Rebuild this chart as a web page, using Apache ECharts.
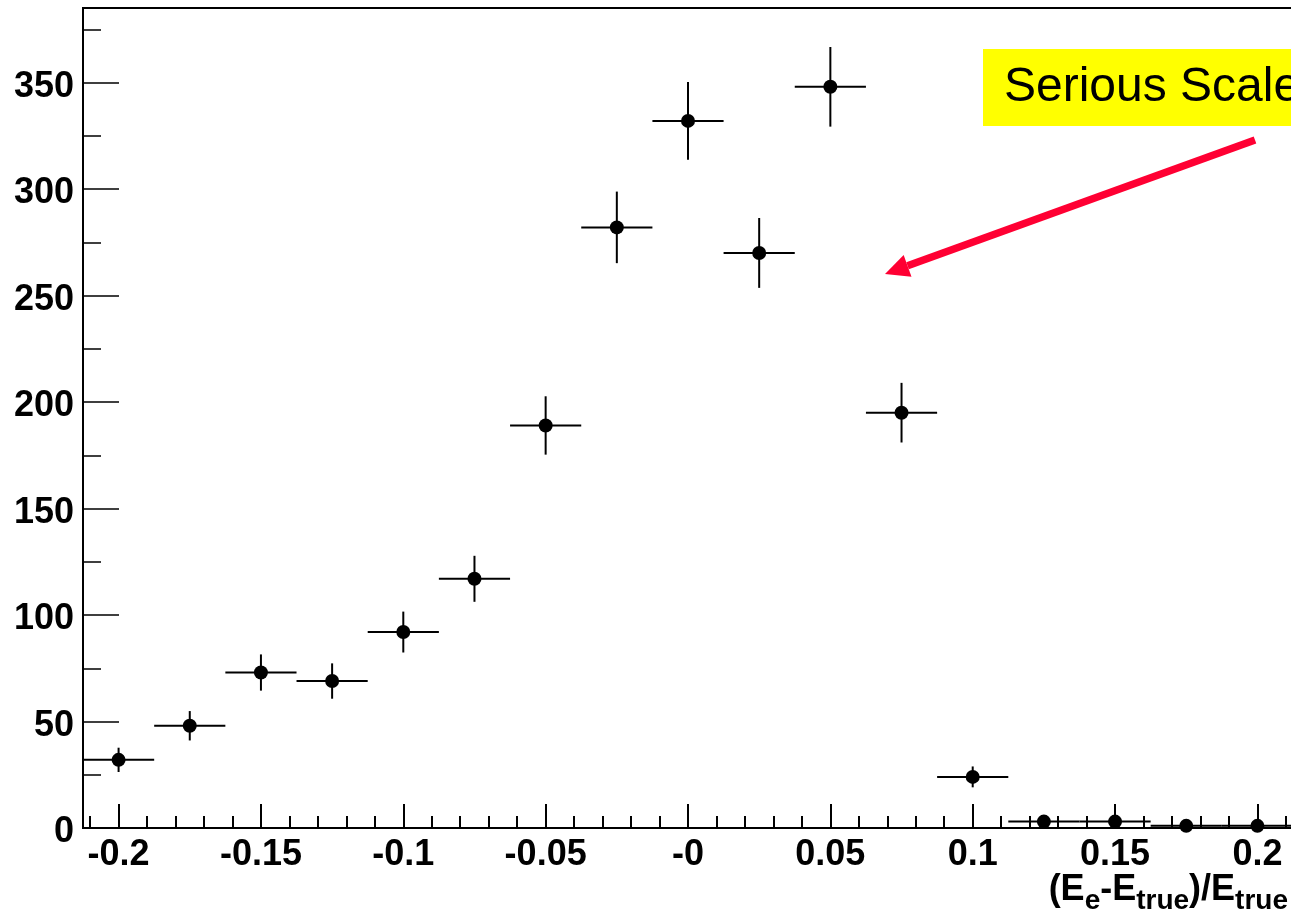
<!DOCTYPE html>
<html>
<head>
<meta charset="utf-8">
<script src="https://cdn.jsdelivr.net/npm/echarts@6/dist/echarts.min.js"></script>
<style>
html,body{margin:0;padding:0;background:#fff;overflow:hidden;width:1291px;height:919px;}
#chart{width:1293px;height:919px;}
</style>
</head>
<body>
<div id="chart"></div>
<script>
// Bin centres (x) and contents (y), with vertical error estimates
const binCenters = [-0.2, -0.175, -0.15, -0.125, -0.1, -0.075, -0.05, -0.025, 0, 0.025, 0.05, 0.075, 0.1, 0.125, 0.15, 0.175, 0.2];
const counts     = [32, 48, 73, 69, 92, 117, 189, 282, 332, 270, 348, 195, 24, 3, 3, 1, 1];
const errors     = [5.7, 6.9, 8.5, 8.3, 9.6, 10.8, 13.7, 16.8, 18.2, 16.4, 18.7, 14.0, 4.9, 1.7, 1.7, 1.0, 1.0];
const binHalfWidth = 0.0125;

// Axis ticks and labels
const xMajorTicks = [-0.2, -0.15, -0.1, -0.05, 0, 0.05, 0.1, 0.15, 0.2];
const xTickLabels = ['-0.2', '-0.15', '-0.1', '-0.05', '-0', '0.05', '0.1', '0.15', '0.2'];
const xMinorTicks = [];
for (let i = -21; i <= 21; i++) xMinorTicks.push(i / 100);
const yMajorTicks = [0, 50, 100, 150, 200, 250, 300, 350];
const yMinorTicks = [25, 75, 125, 175, 225, 275, 325, 375];

const annotationText = 'Serious Scale';

const pts = binCenters.map((x, i) => [x, counts[i]]);
const errPts = binCenters.map((x, i) => [x, counts[i], errors[i]]);

const labelFont = {fontFamily: 'Liberation Sans', fontWeight: 'bold', fontSize: 36, color: '#000'};

const chart = echarts.init(document.getElementById('chart'), null, {renderer: 'canvas'});
const xRange = {min: -0.2125, max: 0.2125};
const yRange = {min: 0, max: 385};

// Arrow geometry (annotation)
const tail = [1255, 140], tip = [885, 274];
const dx = tip[0] - tail[0], dy = tip[1] - tail[1];
const L = Math.sqrt(dx * dx + dy * dy);
const ux = dx / L, uy = dy / L;
const nx = -uy, ny = ux;
const headLen = 24, headHalf = 11.5;
const base = [tip[0] - ux * headLen, tip[1] - uy * headLen];

chart.setOption({
  animation: false,
  backgroundColor: '#fff',
  grid: {left: 83, right: 0, top: 8, bottom: 91, show: true, borderColor: '#000', borderWidth: 2, backgroundColor: 'transparent'},
  title: {
    text: '{m|(E}{s|e}{m|-E}{s|true}{m|)/E}{s|true}',
    right: 5, bottom: -3, padding: 0,
    textStyle: {
      rich: {
        m: {fontFamily: 'Liberation Sans', fontWeight: 'bold', fontSize: 36, lineHeight: 36, color: '#000', verticalAlign: 'bottom', padding: [0, 0, 7, 0]},
        s: {fontFamily: 'Liberation Sans', fontWeight: 'bold', fontSize: 28, lineHeight: 28, color: '#000', verticalAlign: 'bottom'}
      }
    }
  },
  xAxis: [
    Object.assign({
      type: 'value', position: 'bottom',
      axisLine: {show: true, onZero: false, lineStyle: {color: '#000', width: 2}},
      axisTick: {show: true, inside: true, length: 24, customValues: xMajorTicks, lineStyle: {color: '#000', width: 2}},
      axisLabel: Object.assign({show: true, margin: 9, customValues: xMajorTicks,
        formatter: function (v) {
          for (let i = 0; i < xMajorTicks.length; i++) if (Math.abs(v - xMajorTicks[i]) < 1e-6) return xTickLabels[i];
          return '';
        }}, labelFont),
      splitLine: {show: false}
    }, xRange),
    Object.assign({
      type: 'value', position: 'bottom',
      axisLine: {show: false, onZero: false},
      axisTick: {show: true, inside: true, length: 12, customValues: xMinorTicks, lineStyle: {color: '#000', width: 2}},
      axisLabel: {show: false},
      splitLine: {show: false}
    }, xRange)
  ],
  yAxis: [
    Object.assign({
      type: 'value', position: 'left',
      axisLine: {show: true, onZero: false, lineStyle: {color: '#000', width: 2}},
      axisTick: {show: true, inside: true, length: 36, customValues: yMajorTicks, lineStyle: {color: '#000', width: 1.5}},
      axisLabel: {show: true, margin: 9, customValues: yMajorTicks,
        formatter: function (v) { return '{n|' + v + '}'; },
        rich: {n: Object.assign({padding: [9, 0, 0, 0]}, labelFont)}
      },
      splitLine: {show: false}
    }, yRange),
    Object.assign({
      type: 'value', position: 'left',
      axisLine: {show: false, onZero: false},
      axisTick: {show: true, inside: true, length: 18, customValues: yMinorTicks, lineStyle: {color: '#000', width: 1.5}},
      axisLabel: {show: false},
      splitLine: {show: false}
    }, yRange)
  ],
  series: [
    {
      type: 'custom',
      xAxisIndex: 0, yAxisIndex: 0,
      data: errPts,
      clip: true,
      renderItem: function (params, api) {
        const x = api.value(0), y = api.value(1), e = api.value(2);
        const h0 = api.coord([x - binHalfWidth, y]);
        const h1 = api.coord([x + binHalfWidth, y]);
        const v0 = api.coord([x, Math.max(0, y - e)]);
        const v1 = api.coord([x, y + e]);
        const st = {stroke: '#000', lineWidth: 2};
        return {
          type: 'group',
          children: [
            {type: 'line', shape: {x1: h0[0], y1: h0[1], x2: h1[0], y2: h1[1]}, style: st},
            {type: 'line', shape: {x1: v0[0], y1: v0[1], x2: v1[0], y2: v1[1]}, style: st}
          ]
        };
      },
      z: 3
    },
    {
      type: 'scatter',
      xAxisIndex: 0, yAxisIndex: 0,
      data: pts,
      symbol: 'circle',
      symbolSize: 14,
      itemStyle: {color: '#000', opacity: 1},
      z: 4
    }
  ],
  graphic: [
    {
      type: 'rect', shape: {x: 983, y: 49, width: 320, height: 77},
      style: {fill: '#ffff00'}, z: 10
    },
    {
      type: 'text', x: 1004, y: 88,
      style: {text: annotationText, fontFamily: 'Liberation Sans', fontSize: 48, fill: '#000', verticalAlign: 'middle', align: 'left'},
      z: 11
    },
    {
      type: 'line', shape: {x1: tail[0], y1: tail[1], x2: base[0], y2: base[1]},
      style: {stroke: '#ff0033', lineWidth: 7.5}, z: 10
    },
    {
      type: 'polygon',
      shape: {points: [tip, [base[0] + nx * headHalf, base[1] + ny * headHalf], [base[0] - nx * headHalf, base[1] - ny * headHalf]]},
      style: {fill: '#ff0033'}, z: 10
    }
  ]
});
</script>
</body>
</html>
